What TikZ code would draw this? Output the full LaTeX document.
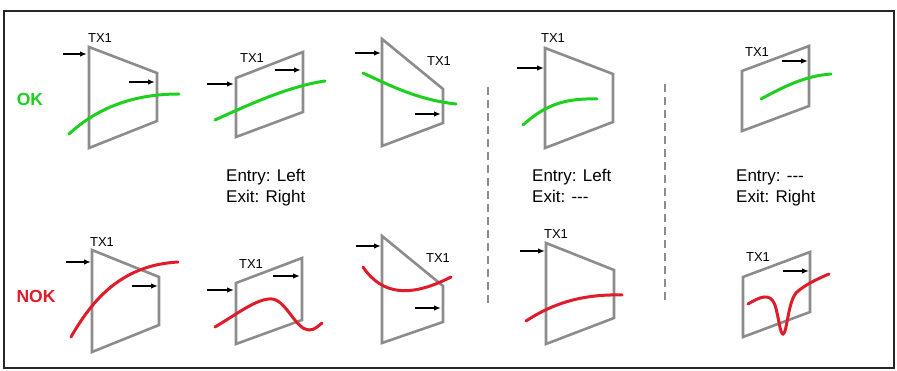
\documentclass[tikz,border=0pt]{standalone}
\usepackage{fontspec}
\setmainfont{Liberation Sans}
\usepackage{xcolor}
\usetikzlibrary{arrows.meta, positioning}

\definecolor{okgreen}{RGB}{30,208,30}
\definecolor{nokred}{RGB}{222,28,42}
\definecolor{txgray}{RGB}{140,140,140}

\tikzset{
	txbox/.style={draw=txgray, line width=2.6pt, line join=miter},
	okcurve/.style={okgreen, line width=3pt, line cap=round},
	nokcurve/.style={nokred, line width=3pt, line cap=round},
	dirarrow/.style={-{Latex[length=7pt,width=5.5pt]}, line width=1.5pt, black},
	txlabel/.style={inner sep=0pt, font=\fontsize{13}{15}\selectfont},
	caseinfo/.style={inner sep=0pt, anchor=base west, font=\fontsize{17}{21}\selectfont},
	verdict/.style={inner sep=0pt, font=\fontsize{17.5}{21}\selectfont\bfseries}
}

\begin{document}
\begin{tikzpicture}[x=1pt, y=-1pt]
	\useasboundingbox (0,0) rectangle (897,371);
	\fill[white] (0,0) rectangle (897,371);
	\draw[line width=1.5pt, black!85] (4,11) rectangle (894,368);
	
	% row labels
	\node[verdict, okgreen] (ok) at (30,99) {OK};
	\node[verdict, nokred] (nok) at (36,296) {NOK};
	
	% top row, entry left / exit right
	\draw[txbox] (89,47) -- (157,73) -- (157,121) -- (89,148) -- cycle;
	\node[txlabel] (txA) at (100,38) {TX1};
	\draw[dirarrow] (63,54) -- (87,54);
	\draw[dirarrow] (129,82) -- (155,82);
	\draw[okcurve] (69,134) .. controls (95,110) and (130,94) .. (179,94);
	
	\draw[txbox] (236,78) -- (303,52) -- (303,112) -- (236,137) -- cycle;
	\node[txlabel] (txB) at (252,58) {TX1};
	\draw[dirarrow] (207,84) -- (234,84);
	\draw[dirarrow] (275,70) -- (301,70);
	\draw[okcurve] (215,120) .. controls (250,104) and (290,86) .. (325,81);
	
	\draw[txbox] (382,39) -- (443,89) -- (443,123) -- (382,146) -- cycle;
	\node[txlabel] (txC) at (439,61) {TX1};
	\draw[dirarrow] (355,53) -- (381,53);
	\draw[dirarrow] (415,114) -- (441,114);
	\draw[okcurve] (363,73) .. controls (395,88) and (420,100) .. (456,104);
	
	\node[caseinfo] (entryA) at (226,182) {Entry: Left};
	\node[caseinfo] (exitA) at (226,203) {Exit: Right};
	
	% bottom row, entry left / exit right
	\draw[txbox] (92,250) -- (159,277) -- (159,325) -- (92,352) -- cycle;
	\node[txlabel] (txD) at (102,242) {TX1};
	\draw[dirarrow] (66,262) -- (91,262);
	\draw[dirarrow] (132,286) -- (158,286);
	\draw[nokcurve] (71,337) .. controls (95,295) and (125,265) .. (178,262);
	
	\draw[txbox] (236,283) -- (302,258) -- (302,320) -- (236,344) -- cycle;
	\node[txlabel] (txE) at (251,264) {TX1};
	\draw[dirarrow] (207,290) -- (234,290);
	\draw[dirarrow] (273,276) -- (300,276);
	\draw[nokcurve] (215,327) .. controls (240,312) and (258,298) .. (272,299)
		.. controls (286,300) and (296,330) .. (309,330)
		.. controls (315,330) and (318,326) .. (322,323);
	
	\draw[txbox] (382,236) -- (443,286) -- (443,322) -- (382,343) -- cycle;
	\node[txlabel] (txF) at (438,258) {TX1};
	\draw[dirarrow] (356,246) -- (381,246);
	\draw[dirarrow] (415,308) -- (441,308);
	\draw[nokcurve] (363,267) .. controls (382,295) and (410,298) .. (451,277);
	
	% separators
	\draw[txgray, line width=1.5pt, dash pattern=on 8pt off 5pt] (488,87) -- (488,307);
	\draw[txgray, line width=1.5pt, dash pattern=on 8pt off 5pt] (665,84) -- (665,304);
	
	% entry left only
	\draw[txbox] (545,48) -- (613,74) -- (613,122) -- (545,148) -- cycle;
	\node[txlabel] (txG) at (553,38) {TX1};
	\draw[dirarrow] (517,68) -- (544,68);
	\draw[okcurve] (523,125) .. controls (545,105) and (565,98) .. (597,99);
	
	\node[caseinfo] (entryB) at (532,182) {Entry: Left};
	\node[caseinfo] (exitB) at (532,203) {Exit: -{}-{}-};
	
	\draw[txbox] (546,243) -- (614,270) -- (614,318) -- (546,344) -- cycle;
	\node[txlabel] (txH) at (556,234) {TX1};
	\draw[dirarrow] (520,251) -- (545,251);
	\draw[nokcurve] (526,321) .. controls (555,302) and (585,294) .. (622,295);
	
	% exit right only
	\draw[txbox] (742,71) -- (809,46) -- (809,106) -- (742,131) -- cycle;
	\node[txlabel] (txI) at (757,52) {TX1};
	\draw[dirarrow] (782,61) -- (808,61);
	\draw[okcurve] (761,99) .. controls (785,86) and (805,76) .. (831,74);
	
	\node[caseinfo] (entryC) at (736,182) {Entry: -{}-{}-};
	\node[caseinfo] (exitC) at (736,203) {Exit: Right};
	
	\draw[txbox] (743,277) -- (810,252) -- (810,312) -- (743,337) -- cycle;
	\node[txlabel] (txJ) at (758,257) {TX1};
	\draw[dirarrow] (783,271) -- (809,271);
	\draw[nokcurve] (748,304) .. controls (760,297) and (770,292) .. (775,305)
		.. controls (779,318) and (780,334) .. (783,334)
		.. controls (787,334) and (788,300) .. (797,292)
		.. controls (805,285) and (815,280) .. (829,274);
\end{tikzpicture}
\end{document}
